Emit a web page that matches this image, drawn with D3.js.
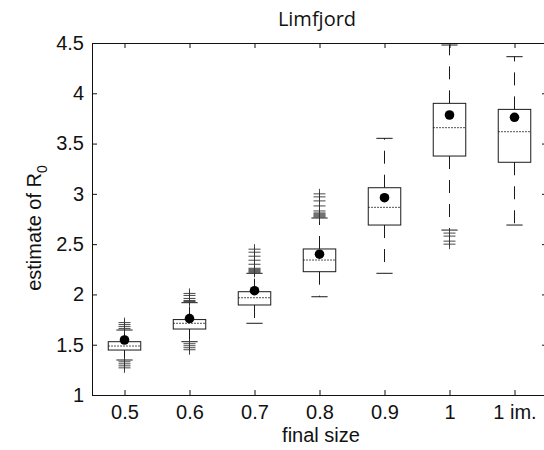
<!DOCTYPE html>
<html>
<head>
<meta charset="utf-8">
<script src="https://cdn.jsdelivr.net/npm/d3@7"></script>
<style>
  body { margin: 0; background: #fff; }
  svg { font-family: "Liberation Sans", Arial, sans-serif; }
  .axis path, .axis line { stroke: #111; }
  .axis text { font-size: 20px; fill: #111; }
</style>
</head>
<body>
<svg id="chart"></svg>
<script>
// data
const categories = ["0.5", "0.6", "0.7", "0.8", "0.9", "1", "1 im."];
const whiskerLow  = [1.348, 1.53, 1.713, 1.977, 2.21, 2.64, 2.69];
const quart1      = [1.447, 1.656, 1.895, 2.226, 2.69, 3.376, 3.314];
const medians     = [1.487, 1.713, 1.967, 2.342, 2.866, 3.658, 3.618];
const quart3      = [1.53, 1.75, 2.027, 2.452, 3.061, 3.90, 3.84];
const whiskerHigh = [1.646, 1.918, 2.21, 2.76, 3.552, 4.48, 4.364];
const means       = [1.547, 1.76, 2.037, 2.40, 2.962, 3.784, 3.761];
const outliers = [
  [1.66, 1.68, 1.70, 1.72, 1.33, 1.31, 1.29, 1.27],
  [1.93, 1.94, 1.96, 1.99, 2.01, 1.51, 1.49, 1.47, 1.45],
  [2.22, 2.23, 2.24, 2.25, 2.26, 2.30, 2.34, 2.38, 2.42, 2.45],
  [2.77, 2.78, 2.79, 2.80, 2.81, 2.83, 2.88, 2.93, 2.97, 3.0],
  [],
  [2.61, 2.58, 2.53, 2.50],
  []
];
const yTicks = [1, 1.5, 2, 2.5, 3, 3.5, 4, 4.5];

function drawBoxes(width, height) {
  const svg = d3.select('#chart')
      .attr("width", width)
      .attr("height", height)
      .attr("viewBox", `0 0 ${width} ${height}`);

  const left = 92, right = 547, top = 43, bottom = 395;

  const xScale = d3.scalePoint()
    .domain(categories)
    .range([left, right])
    .padding(0.5);

  const yScale = d3.scaleLinear()
    .domain([1, 4.5])
    .range([bottom, top]);

  const step = xScale.step();
  const boxW = step * 0.5;
  const capW = step * 0.25;

  // axes, ticks pointing inward
  svg.append('g')
    .attr('class', 'axis')
    .attr('transform', `translate(${left},0)`)
    .call(d3.axisLeft(yScale).tickValues(yTicks).tickFormat(d3.format('')).tickSizeInner(-5).tickSizeOuter(0).tickPadding(8));

  svg.append('g')
    .attr('class', 'axis')
    .attr('transform', `translate(${right},0)`)
    .call(d3.axisRight(yScale).tickValues(yTicks).tickFormat('').tickSizeInner(-5).tickSizeOuter(0));

  svg.append('g')
    .attr('class', 'axis')
    .attr('transform', `translate(0,${bottom})`)
    .call(d3.axisBottom(xScale).tickSizeInner(-5).tickSizeOuter(0).tickPadding(10));

  svg.append('g')
    .attr('class', 'axis')
    .attr('transform', `translate(0,${top})`)
    .call(d3.axisTop(xScale).tickFormat('').tickSizeInner(-5).tickSizeOuter(0));

  const groups = svg.selectAll('.box')
    .data(categories)
    .enter()
    .append('g')
    .attr('class', 'box');

  const ink = '#1a1a1a';

  // whiskers (dashed)
  groups.append('line')
    .attr('x1', c => xScale(c)).attr('x2', c => xScale(c))
    .attr('y1', (c, i) => yScale(quart3[i]))
    .attr('y2', (c, i) => yScale(whiskerHigh[i]))
    .attr('stroke', ink).attr('stroke-dasharray', '13,11');

  groups.append('line')
    .attr('x1', c => xScale(c)).attr('x2', c => xScale(c))
    .attr('y1', (c, i) => yScale(quart1[i]))
    .attr('y2', (c, i) => yScale(whiskerLow[i]))
    .attr('stroke', ink).attr('stroke-dasharray', '13,11');

  // caps
  [whiskerLow, whiskerHigh].forEach(arr => {
    groups.append('line')
      .attr('x1', c => xScale(c) - capW / 2).attr('x2', c => xScale(c) + capW / 2)
      .attr('y1', (c, i) => yScale(arr[i]))
      .attr('y2', (c, i) => yScale(arr[i]))
      .attr('stroke', ink);
  });

  // boxes
  groups.append('rect')
    .attr('x', c => xScale(c) - boxW / 2)
    .attr('width', boxW)
    .attr('y', (c, i) => yScale(quart3[i]))
    .attr('height', (c, i) => yScale(quart1[i]) - yScale(quart3[i]))
    .attr('fill', 'none')
    .attr('stroke', ink);

  // medians (dotted)
  groups.append('line')
    .attr('x1', c => xScale(c) - boxW / 2).attr('x2', c => xScale(c) + boxW / 2)
    .attr('y1', (c, i) => yScale(medians[i]))
    .attr('y2', (c, i) => yScale(medians[i]))
    .attr('stroke', ink).attr('stroke-dasharray', '1.5,1.5');

  // outliers as +
  groups.each(function (c, i) {
    const g = d3.select(this);
    const cx = xScale(c);
    outliers[i].forEach(v => {
      const y = yScale(v);
      g.append('path')
        .attr('d', `M${cx - 6},${y}H${cx + 6}M${cx},${y - 5}V${y + 5}`)
        .attr('stroke', '#333')
        .attr('stroke-width', 0.9);
    });
  });

  // means
  groups.append('circle')
    .attr('cx', c => xScale(c))
    .attr('cy', (c, i) => yScale(means[i]))
    .attr('r', 4.8)
    .attr('fill', '#000');

  // title and labels
  svg.append('text')
    .attr('x', 317).attr('y', 26)
    .attr('text-anchor', 'middle')
    .attr('font-family', '"Open Sans", sans-serif')
    .attr('font-size', 20)
    .attr('fill', '#111')
    .text('Limfjord');

  svg.append('text')
    .attr('x', 321).attr('y', 442)
    .attr('text-anchor', 'middle')
    .attr('font-size', 20)
    .attr('fill', '#111')
    .text('final size');

  const ylab = svg.append('text')
    .attr('transform', `translate(41,228) rotate(-90)`)
    .attr('text-anchor', 'middle')
    .attr('font-size', 20)
    .attr('fill', '#111');
  ylab.append('tspan').text('estimate of R');
  ylab.append('tspan').attr('font-size', 14).attr('dy', 6).text('0');
}

drawBoxes(544, 450);
</script>
</body>
</html>
